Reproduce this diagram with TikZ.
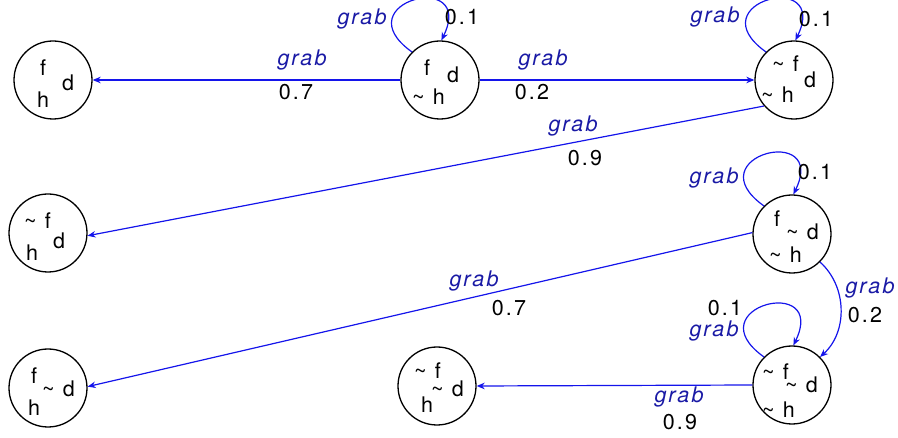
\documentclass[tikz,border=0pt]{standalone}
\usepackage{fontspec}
\setmainfont{TeX Gyre Heros}[LetterSpace=10]
\usetikzlibrary{arrows.meta}
\definecolor{edgeblue}{RGB}{20,20,235}
\definecolor{actblue}{RGB}{25,25,165}
\begin{document}
\begin{tikzpicture}[x=1pt,y=-1pt,
  state/.style={circle,draw=black,line width=1.3pt,minimum size=78pt,inner sep=0pt},
  lbl/.style={inner sep=0pt,font=\fontsize{21.5}{25}\selectfont},
  prob/.style={lbl,text=black},
  act/.style={lbl,text=actblue,font=\fontsize{21.5}{25}\selectfont\itshape},
  sv/.style={inner sep=0pt,anchor=base,font=\fontsize{21.5}{25}\selectfont},
  svw/.style={sv,anchor=base west},
  edge/.style={draw=edgeblue,line width=1.2pt,-{Stealth[length=8pt,width=6.5pt,inset=2.5pt]}},
  selfloop/.style={edge}
]
\path[use as bounding box] (0,0) rectangle (898,438);

% states
\node[state] (n1) at (53,80) {};
\node[state] (n2) at (440,80) {};
\node[state] (n3) at (794,80) {};
\node[state] (n4) at (48,233) {};
\node[state] (n5) at (792,234) {};
\node[state] (n6) at (792,385) {};
\node[state] (n7) at (48,388) {};
\node[state] (n8) at (437,386) {};

% state contents
\node[sv] (n1f) at (43,76) {f};
\node[sv] (n1d) at (68,91) {d};
\node[sv] (n1h) at (43,108) {h};

\node[sv] (n2f) at (427,76) {f};
\node[sv] (n2d) at (453,83) {d};
\node[svw] (n2h) at (412,105) {\textasciitilde\ h};

\node[svw] (n3f) at (772,72) {\textasciitilde\ f};
\node[sv] (n3d) at (810,88) {d};
\node[svw] (n3h) at (761,103) {\textasciitilde\ h};

\node[svw] (n4f) at (24,229) {\textasciitilde\ f};
\node[sv] (n4d) at (59,249) {d};
\node[sv] (n4h) at (32,261) {h};

\node[sv] (n5f) at (777,227) {f};
\node[svw] (n5d) at (786,240) {\textasciitilde\ d};
\node[svw] (n5h) at (769,263) {\textasciitilde\ h};

\node[svw] (n6f) at (762,380) {\textasciitilde\ f};
\node[svw] (n6d) at (785,393) {\textasciitilde\ d};
\node[svw] (n6h) at (762,418) {\textasciitilde\ h};

\node[sv] (n7f) at (34,384) {f};
\node[svw] (n7d) at (42,397) {\textasciitilde\ d};
\node[sv] (n7h) at (34,416) {h};

\node[svw] (n8f) at (414,379) {\textasciitilde\ f};
\node[svw] (n8d) at (431,397) {\textasciitilde\ d};
\node[sv] (n8h) at (427,413) {h};

% transitions
\draw[edge] (n2.west) -- (n1.east);
\draw[edge] (n2.east) -- (n3.west);
\draw[edge] (n3.221) -- (n4.-4);
\draw[edge] (n5.178) -- (n7.2);
\draw[edge] (n5.-45) to[bend left=48] (n6.45);
\draw[edge] (n6.west) -- (n8.east);

% self loops
\draw[selfloop] (n2.135) .. controls +(-70,-50) and +(35,-72) .. (n2.88);
\draw[selfloop] (n3.135) .. controls +(-70,-50) and +(35,-72) .. (n3.88);
\draw[selfloop] (n5.135) .. controls +(-70,-50) and +(35,-72) .. (n5.88);
\draw[selfloop] (n6.135) .. controls +(-70,-50) and +(35,-72) .. (n6.88);

% labels
\node[act] (l1a) at (302,60) {grab};
\node[prob] (l1p) at (296,92) {0.7};
\node[act] (l2a) at (543,60) {grab};
\node[prob] (l2p) at (532,92) {0.2};
\node[act] (l3a) at (573,126) {grab};
\node[prob] (l3p) at (585,158) {0.9};
\node[act] (l4a) at (474,281) {grab};
\node[prob] (l4p) at (509,308) {0.7};
\node[act] (l5a) at (870,288) {grab};
\node[prob] (l5p) at (865,315) {0.2};
\node[act] (l6a) at (679,397) {grab};
\node[prob] (l6p) at (680,422) {0.9};

\node[act] (s2a) at (362,19) {grab};
\node[prob] (s2p) at (462,17) {0.1};
\node[act] (s3a) at (715,17) {grab};
\node[prob] (s3p) at (816,19) {0.1};
\node[act] (s5a) at (714,178) {grab};
\node[prob] (s5p) at (815,172) {0.1};
\node[prob] (s6p) at (725,308) {0.1};
\node[act] (s6a) at (714,331) {grab};
\end{tikzpicture}
\end{document}
